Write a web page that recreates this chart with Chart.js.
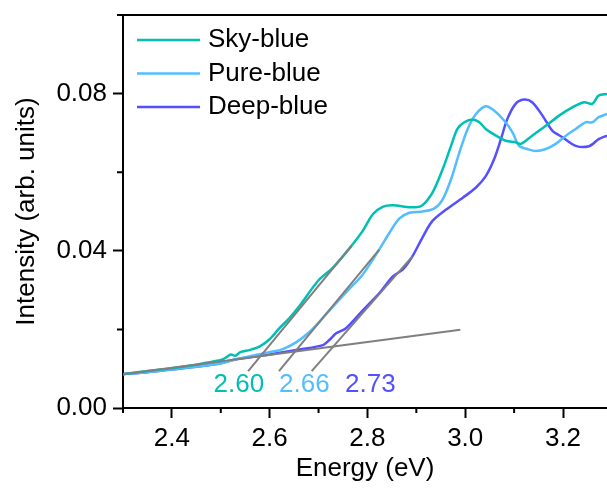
<!DOCTYPE html>
<html>
<head>
<meta charset="utf-8">
<script src="https://cdn.jsdelivr.net/npm/chart.js@4.4.0/dist/chart.umd.min.js"></script>
<style>
  html, body { margin: 0; padding: 0; background: #fff; }
  #wrap { width: 607px; height: 492px; }
</style>
</head>
<body>
<div id="wrap"><canvas id="myChart"></canvas></div>
<script>
/* values */
const skyEnergy = [2.30, 2.35, 2.40, 2.45, 2.47, 2.50, 2.51, 2.52, 2.53, 2.54, 2.56, 2.58, 2.60, 2.62, 2.64, 2.66, 2.70, 2.73, 2.767, 2.79, 2.811, 2.831, 2.852, 2.886, 2.91, 2.933, 2.954, 2.971, 2.984, 2.998, 3.015, 3.029, 3.042, 3.063, 3.083, 3.103, 3.114, 3.137, 3.165, 3.192, 3.219, 3.243, 3.26, 3.273, 3.29];
const skyIntensity = [0.0086, 0.0094, 0.0101, 0.0110, 0.0115, 0.0122, 0.0128, 0.0136, 0.0133, 0.0142, 0.0148, 0.0157, 0.0175, 0.0203, 0.0228, 0.0258, 0.0325, 0.0358, 0.0412, 0.0450, 0.0493, 0.0512, 0.0516, 0.0511, 0.0514, 0.0548, 0.0608, 0.0667, 0.0710, 0.0727, 0.0734, 0.0727, 0.0710, 0.0693, 0.0680, 0.0676, 0.0672, 0.0693, 0.0718, 0.0744, 0.0765, 0.0778, 0.0774, 0.0795, 0.0799];

const pureEnergy = [2.30, 2.35, 2.40, 2.45, 2.50, 2.525, 2.56, 2.60, 2.627, 2.654, 2.682, 2.702, 2.722, 2.763, 2.79, 2.824, 2.845, 2.865, 2.886, 2.913, 2.937, 2.954, 2.971, 2.988, 3.005, 3.022, 3.042, 3.059, 3.08, 3.097, 3.11, 3.127, 3.144, 3.165, 3.185, 3.206, 3.226, 3.246, 3.26, 3.273, 3.29];
const pureIntensity = [0.0086, 0.0091, 0.0098, 0.0105, 0.0113, 0.0122, 0.0132, 0.0142, 0.0150, 0.0167, 0.0194, 0.0220, 0.0248, 0.0303, 0.0339, 0.0403, 0.0446, 0.0482, 0.0497, 0.0500, 0.0508, 0.0531, 0.0582, 0.0650, 0.0710, 0.0748, 0.0768, 0.0757, 0.0731, 0.0701, 0.0667, 0.0659, 0.0654, 0.0659, 0.0672, 0.0693, 0.0710, 0.0727, 0.0727, 0.0740, 0.0748];

const deepEnergy = [2.30, 2.35, 2.40, 2.45, 2.50, 2.525, 2.593, 2.661, 2.709, 2.722, 2.736, 2.756, 2.79, 2.824, 2.852, 2.872, 2.892, 2.913, 2.933, 2.961, 2.995, 3.022, 3.042, 3.059, 3.073, 3.086, 3.103, 3.12, 3.137, 3.158, 3.178, 3.199, 3.226, 3.253, 3.273, 3.29];
const deepIntensity = [0.0086, 0.0091, 0.0098, 0.0105, 0.0114, 0.0122, 0.0135, 0.0149, 0.0160, 0.0173, 0.0190, 0.0203, 0.0248, 0.0292, 0.0335, 0.0352, 0.0386, 0.0435, 0.0476, 0.0505, 0.0535, 0.0561, 0.0590, 0.0633, 0.0684, 0.0735, 0.0774, 0.0785, 0.0778, 0.0744, 0.0706, 0.0689, 0.0667, 0.0666, 0.0684, 0.0693];

// grey fit lines (baseline + one tangent per curve)
const baseEnergy = [2.30, 2.99];
const baseIntensity = [0.0086, 0.0199];
const skyFitEnergy = [2.556, 2.767];
const skyFitIntensity = [0.0094, 0.0412];
const pureFitEnergy = [2.619, 2.824];
const pureFitIntensity = [0.0094, 0.0403];
const deepFitEnergy = [2.686, 2.892];
const deepFitIntensity = [0.0094, 0.0386];

const gapLabels = ['2.60', '2.66', '2.73'];
const gapLabelEnergy = [2.537, 2.671, 2.806];
const gapLabelIntensity = 0.0058;

const seriesNames = ['Sky-blue', 'Pure-blue', 'Deep-blue'];
const seriesColors = ['#00BFB3', '#52BEFF', '#5550FF'];

const xMajorTicks = [2.4, 2.6, 2.8, 3.0, 3.2];
const xMinorTicks = [2.3, 2.5, 2.7, 2.9, 3.1];
const yMajorTicks = [0, 0.04, 0.08];
const yMinorTicks = [0.02, 0.06, 0.10];

const FONT = "'Liberation Sans', Arial, sans-serif";
Chart.defaults.font.family = FONT;
Chart.defaults.font.size = 26;
Chart.defaults.color = '#000';

const xy = (xs, ys) => xs.map((x, i) => ({ x: x, y: ys[i] }));

const curve = (i, xs, ys) => ({
  label: seriesNames[i],
  data: xy(xs, ys),
  borderColor: seriesColors[i],
  borderWidth: 2.5,
  pointRadius: 0,
  tension: 0.3,
  order: 1
});
const fit = (xs, ys) => ({
  data: xy(xs, ys),
  borderColor: '#7f7f7f',
  borderWidth: 2,
  pointRadius: 0,
  tension: 0,
  order: 0
});

const decor = {
  id: 'decor',
  afterDraw(chart) {
    const c = chart.ctx, a = chart.chartArea;
    const sx = chart.scales.x, sy = chart.scales.y;
    c.save();
    c.strokeStyle = '#000';
    c.lineWidth = 2;
    // top frame line
    c.beginPath();
    c.moveTo(a.left, a.top);
    c.lineTo(a.right, a.top);
    c.stroke();
    // minor ticks
    c.beginPath();
    xMinorTicks.forEach(v => {
      const px = sx.getPixelForValue(v);
      c.moveTo(px, a.bottom);
      c.lineTo(px, a.bottom + 5);
    });
    yMinorTicks.forEach(v => {
      const py = sy.getPixelForValue(v);
      c.moveTo(a.left, py);
      c.lineTo(a.left - 6, py);
    });
    c.stroke();

    // legend
    c.font = '26px ' + FONT;
    c.textBaseline = 'middle';
    c.textAlign = 'left';
    seriesNames.forEach((name, i) => {
      const ly = 40 + i * 33.5;
      c.strokeStyle = seriesColors[i];
      c.lineWidth = 2.5;
      c.beginPath();
      c.moveTo(137, ly);
      c.lineTo(200, ly);
      c.stroke();
      c.fillStyle = '#000';
      c.fillText(name, 208, ly);
    });

    // band-gap labels
    c.textAlign = 'center';
    gapLabels.forEach((t, i) => {
      c.fillStyle = seriesColors[i];
      c.fillText(t, sx.getPixelForValue(gapLabelEnergy[i]), sy.getPixelForValue(gapLabelIntensity));
    });
    c.restore();
  }
};

new Chart(document.getElementById('myChart'), {
  type: 'line',
  data: {
    datasets: [
      fit(baseEnergy, baseIntensity),
      fit(skyFitEnergy, skyFitIntensity),
      fit(pureFitEnergy, pureFitIntensity),
      fit(deepFitEnergy, deepFitIntensity),
      curve(0, skyEnergy, skyIntensity),
      curve(1, pureEnergy, pureIntensity),
      curve(2, deepEnergy, deepIntensity)
    ]
  },
  options: {
    responsive: true,
    maintainAspectRatio: false,
    animation: false,
    layout: { padding: { top: 15, right: 0, left: 0, bottom: 0 } },
    plugins: { legend: { display: false }, tooltip: { enabled: false } },
    scales: {
      x: {
        type: 'linear',
        min: 2.3,
        max: 3.29,
        afterBuildTicks: s => { s.ticks = xMajorTicks.map(v => ({ value: v })); },
        afterFit: s => { s.height = 84; s.paddingLeft = 0; s.paddingRight = 0; },
        ticks: { callback: v => v.toFixed(1), padding: 5, maxRotation: 0, autoSkip: false },
        grid: { drawOnChartArea: false, tickLength: 10, tickWidth: 2, tickColor: '#000' },
        border: { color: '#000', width: 2 },
        title: { display: true, text: 'Energy (eV)', padding: { top: 0, bottom: 8 } }
      },
      y: {
        min: 0,
        max: 0.1,
        afterBuildTicks: s => { s.ticks = yMajorTicks.map(v => ({ value: v })); },
        afterFit: s => { s.width = 123; s.paddingTop = 0; s.paddingBottom = 0; },
        ticks: { callback: v => v.toFixed(2), padding: 6 },
        grid: { drawOnChartArea: false, tickLength: 10, tickWidth: 2, tickColor: '#000' },
        border: { color: '#000', width: 2 },
        title: { display: true, text: 'Intensity (arb. units)', padding: { top: 11, bottom: 0 } }
      }
    }
  },
  plugins: [decor]
});
</script>
</body>
</html>
